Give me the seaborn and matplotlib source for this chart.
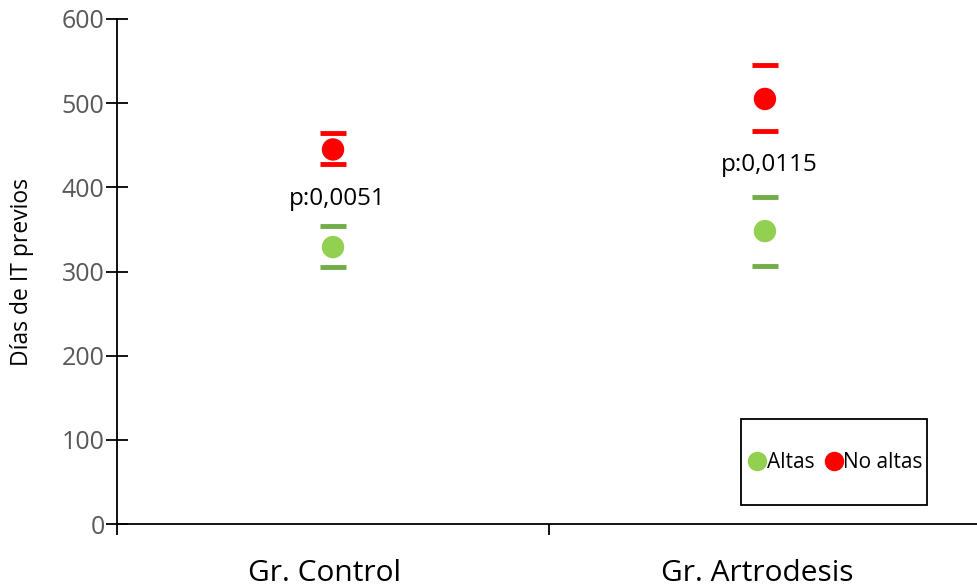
import matplotlib
matplotlib.use("Agg")
import matplotlib.pyplot as plt
import seaborn as sns
import pandas as pd
from matplotlib.lines import Line2D
from matplotlib.patches import Rectangle
import matplotlib.transforms as mtransforms

categories = ["Gr. Control", "Gr. Artrodesis"]
altas_mean = [329, 348]
altas_upper = [354, 389]
altas_lower = [305, 307]
noaltas_mean = [445, 505]
noaltas_upper = [464, 545]
noaltas_lower = [428, 467]
p_labels = ["p:0,0051", "p:0,0115"]
p_label_y = [386, 426]
yticks = [0, 100, 200, 300, 400, 500, 600]

GREEN = "#92D050"
GREEN_CAP = "#70AD47"
RED = "#FF0000"

sns.set_style("white", {"xtick.bottom": True, "ytick.left": True, "text.color": "black",
                        "axes.labelcolor": "black"})
plt.rcParams["font.family"] = ["Open Sans", "DejaVu Sans"]

fig = plt.figure(figsize=(9.77, 5.88), dpi=100)
ax = fig.add_axes([0.1198, 0.1088, 0.8802 + 0.004, 0.8589])

xpos = list(range(len(categories)))
means = pd.DataFrame({
    "x": xpos + xpos,
    "y": altas_mean + noaltas_mean,
    "grupo": ["Altas"] * len(xpos) + ["No altas"] * len(xpos),
})
caps = pd.DataFrame({
    "x": xpos * 4,
    "y": altas_upper + altas_lower + noaltas_upper + noaltas_lower,
    "grupo": ["Altas"] * (2 * len(xpos)) + ["No altas"] * (2 * len(xpos)),
})

sns.scatterplot(data=caps, x="x", y="y", hue="grupo", palette={"Altas": GREEN_CAP, "No altas": RED},
                marker="_", s=330, linewidth=3.5, legend=False, ax=ax, zorder=3)
sns.scatterplot(data=means, x="x", y="y", hue="grupo", palette={"Altas": GREEN, "No altas": RED},
                marker="o", s=260, edgecolor="none", legend=False, ax=ax, zorder=4)

for x, lab, yy in zip(xpos, p_labels, p_label_y):
    ax.text(x + 0.01, yy, lab, ha="center", va="center", fontsize=17.5, color="black")

ax.set_xlim(-0.5, 1.5)
ax.set_ylim(0, 600)
ax.set_yticks(yticks)
ax.set_yticklabels([str(v) for v in yticks], color="#595959", fontsize=18)
ax.set_xticks(xpos)
ax.set_xticklabels(categories, fontsize=21.5, color="black")
ax.tick_params(axis="x", which="major", length=0, pad=25)
offset = mtransforms.ScaledTranslation(-8 / 100, 0, fig.dpi_scale_trans)
for lbl in ax.get_xticklabels():
    lbl.set_transform(lbl.get_transform() + offset)
ax.set_xticks([-0.5, 0.5, 1.5], minor=True)
ax.tick_params(axis="x", which="minor", length=8, width=1.3, direction="out", color="black", bottom=True)
ax.tick_params(axis="y", which="major", length=16, width=1.3, direction="inout", color="black", pad=1, left=True)
ax.set_xlabel("")
ax.set_ylabel("Días de IT previos", fontsize=16.5, labelpad=20, color="black")

for s in ["top", "right"]:
    ax.spines[s].set_visible(False)
for s in ["left", "bottom"]:
    ax.spines[s].set_color("black")
    ax.spines[s].set_linewidth(1.3)

# legend box
rect = Rectangle((0.722, 0.0376), 0.216, 0.17, transform=ax.transAxes, fill=False,
                 edgecolor="black", linewidth=1.3, zorder=5)
ax.add_patch(rect)
handles = [Line2D([], [], marker="o", linestyle="", color=GREEN, markersize=13, label="Altas"),
           Line2D([], [], marker="o", linestyle="", color=RED, markersize=13, label="No altas")]
leg = ax.legend(handles=handles, loc="center", bbox_to_anchor=(0.828, 0.122), ncol=2, frameon=False,
                fontsize=15, handletextpad=-0.3, columnspacing=0.2, handlelength=1.5,
                labelcolor="black")

fig.savefig("out.png", dpi=100)
